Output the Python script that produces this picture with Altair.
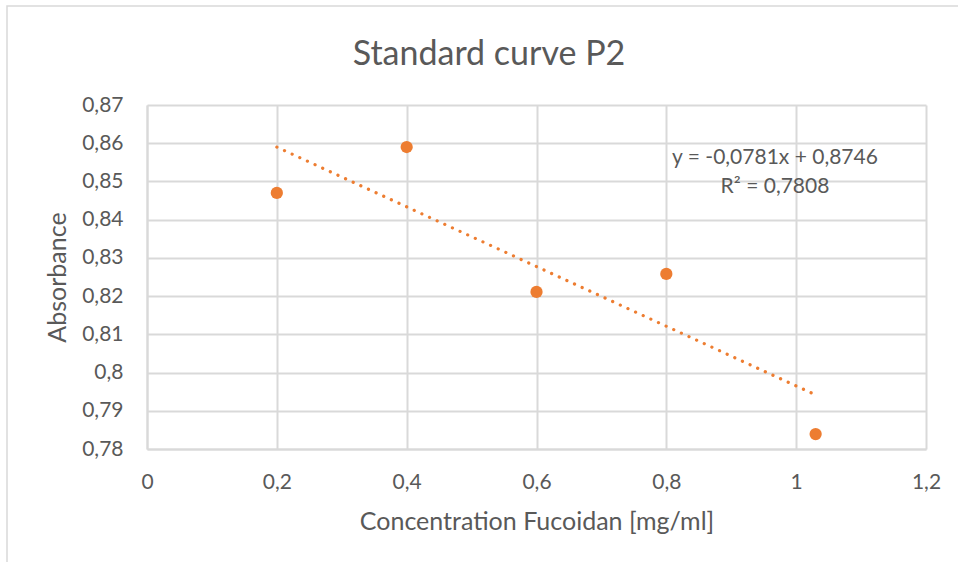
import altair as alt
import pandas as pd

# Measured absorbance for each fucoidan concentration
concentration = [0.2, 0.4, 0.6, 0.8, 1.03]
absorbance = [0.847, 0.859, 0.8211, 0.8258, 0.7839]

# Linear trendline coefficients and fit quality
SLOPE = -0.0781
INTERCEPT = 0.8746
R_SQUARED = 0.7808

# Axis ticks
x_ticks = [0, 0.2, 0.4, 0.6, 0.8, 1.0, 1.2]
y_ticks = [0.78, 0.79, 0.80, 0.81, 0.82, 0.83, 0.84, 0.85, 0.86, 0.87]

TITLE = "Standard curve P2"
FONT = "Lato"
TEXT_GRAY = "#595959"
GRID_GRAY = "#d9d9d9"
ORANGE = "#ED7D31"


def decimal_comma(value, digits):
    return f"{value:.{digits}f}".replace(".", ",")


equation_lines = [
    f"y = {decimal_comma(SLOPE, 4)}x + {decimal_comma(INTERCEPT, 4)}",
    f"R² = {decimal_comma(R_SQUARED, 4)}",
]

points = pd.DataFrame({"conc": concentration, "abs": absorbance})

comma_label = "replace(format(datum.value, '.2~f'), '.', ',')"

x_scale = alt.Scale(domain=[0, 1.2], nice=False, zero=False)
y_scale = alt.Scale(domain=[0.78, 0.87], nice=False, zero=False)

x_axis = alt.Axis(
    values=x_ticks,
    labelExpr=comma_label,
    title="Concentration Fucoidan [mg/ml]",
    titleY=72,
    titleBaseline="middle",
    labelPadding=22,
    labelFlush=False,
)
y_axis = alt.Axis(
    values=y_ticks,
    labelExpr=comma_label,
    title="Absorbance",
    titleX=-90,
    titleBaseline="middle",
    labelPadding=24,
    labelFlush=False,
)

base = alt.Chart(points)
single = alt.Chart(pd.DataFrame({"k": [0]}))

frame = single.mark_rect(
    fillOpacity=0, stroke=GRID_GRAY, strokeWidth=1.5
).encode(
    x=alt.value(-140), x2=alt.value(830), y=alt.value(-99), y2=alt.value(470)
)

dots = base.mark_circle(color=ORANGE, size=150, opacity=1).encode(
    x=alt.X("conc:Q", scale=x_scale, axis=x_axis),
    y=alt.Y("abs:Q", scale=y_scale, axis=y_axis),
)

trend = base.transform_calculate(
    fit=f"{INTERCEPT} + ({SLOPE}) * datum.conc"
).mark_line(
    color=ORANGE, strokeWidth=3.2, strokeDash=[0.1, 8.3], strokeCap="round"
).encode(
    x=alt.X("conc:Q", scale=x_scale, axis=x_axis),
    y=alt.Y("fit:Q", scale=y_scale, axis=y_axis),
)

equation = single.mark_text(
    font=FONT, fontSize=21, color=TEXT_GRAY, align="center",
    baseline="middle", lineHeight=29,
).encode(
    x=alt.value(628), y=alt.value(53), text=alt.value(equation_lines)
)

heading = single.mark_text(
    font=FONT, fontSize=34, color=TEXT_GRAY, align="center",
    baseline="alphabetic",
).encode(
    x=alt.value(342), y=alt.value(-40), text=alt.value(TITLE)
)

chart = alt.layer(frame, dots, trend, equation, heading).properties(
    width=779,
    height=344,
    padding={"left": 147, "top": 105, "right": 32, "bottom": 113},
    autosize=alt.AutoSizeParams(type="none"),
    background="white",
).configure_view(
    stroke=None
).configure_axis(
    labelFont=FONT,
    labelFontSize=21,
    labelColor=TEXT_GRAY,
    titleFont=FONT,
    titleFontSize=25,
    titleFontWeight="normal",
    titleColor=TEXT_GRAY,
    gridColor=GRID_GRAY,
    gridWidth=2,
    domainColor=GRID_GRAY,
    domainWidth=2,
    ticks=False,
    labelOverlap=False,
)

chart.save("out.html", embed_options={"renderer": "svg", "actions": False})
